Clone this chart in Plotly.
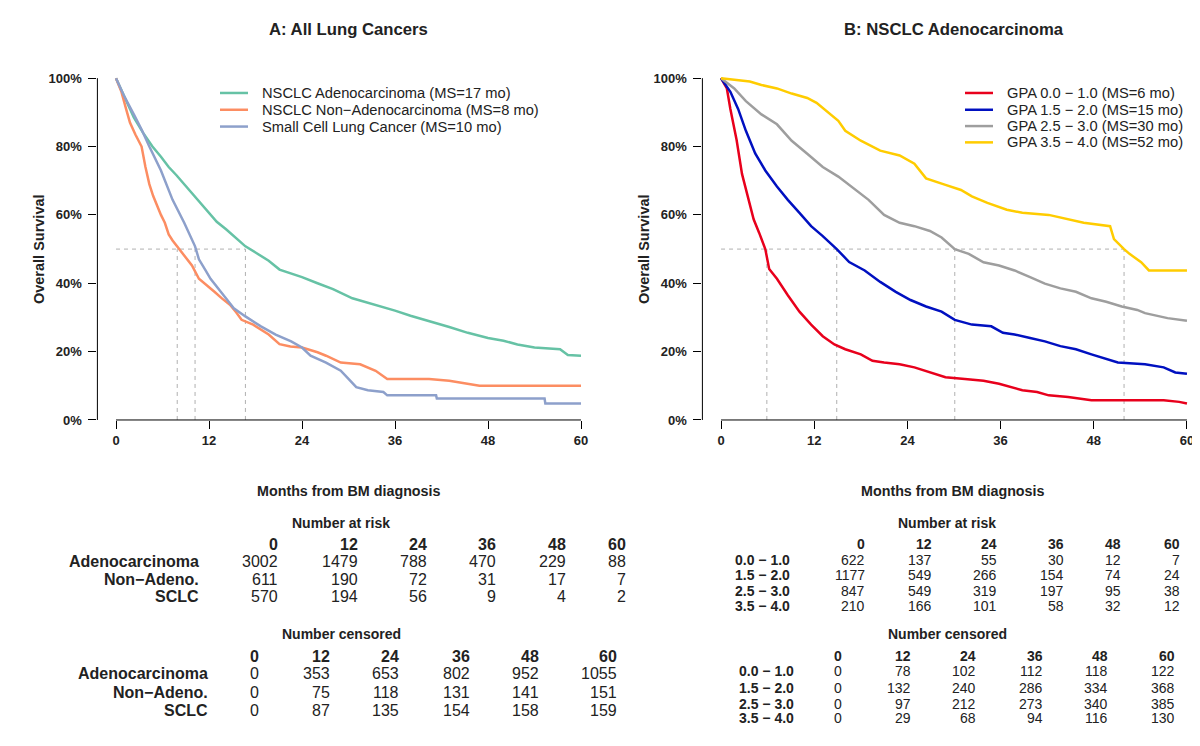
import plotly.graph_objects as go

# ---- survival curves (months, survival fraction) ----
t_adeno = [0, 1, 2.3, 3.5, 4.7, 5.8, 6.8, 7.8, 8.8, 9.8, 11, 12, 13, 14.2, 15.5, 16.7, 18, 19.7,
           21.1, 22.5, 24, 26, 28, 30.5, 33, 36, 38, 40.4, 43, 45.4, 48, 50, 51.8, 54, 57.3, 58.3, 60]
s_adeno = [1.0, 0.95, 0.885, 0.84, 0.80, 0.77, 0.74, 0.716, 0.69, 0.663, 0.632, 0.606, 0.58, 0.558,
           0.532, 0.508, 0.49, 0.466, 0.44, 0.43, 0.418, 0.40, 0.383, 0.356, 0.34, 0.32, 0.305, 0.29,
           0.272, 0.255, 0.24, 0.232, 0.221, 0.212, 0.207, 0.19, 0.188]

t_nonadeno = [0, 0.7, 1.3, 1.8, 2.5, 3.3, 3.8, 4.3, 4.8, 5.3, 5.8, 6.3, 6.8, 7.3, 7.9, 8.8, 9.8, 10.7,
              11.7, 12.7, 13.7, 14.7, 15.5, 16.2, 17.7, 18.7, 19.7, 21.1, 22.5, 24, 25.1, 26, 27.1, 29,
              31.5, 33.5, 35, 40.4, 43, 45, 46.9, 60]
s_nonadeno = [1.0, 0.96, 0.91, 0.87, 0.835, 0.80, 0.74, 0.69, 0.655, 0.625, 0.60, 0.577, 0.543, 0.525,
              0.508, 0.48, 0.452, 0.413, 0.395, 0.375, 0.355, 0.337, 0.315, 0.293, 0.279, 0.265, 0.25,
              0.222, 0.215, 0.212, 0.205, 0.198, 0.188, 0.168, 0.163, 0.144, 0.12, 0.12, 0.115, 0.108,
              0.10, 0.10]

t_sclc = [0, 1, 2.3, 3.3, 4.3, 5.8, 7.3, 8.8, 10.2, 10.7, 11.5, 12.2, 13.7, 15.2, 16.7, 18.7, 20.6,
          22.6, 24, 25.1, 27.1, 29, 30, 31, 32.5, 34.5, 35, 41.3, 41.4, 55.3, 55.4, 60]
s_sclc = [1.0, 0.95, 0.894, 0.85, 0.80, 0.73, 0.644, 0.577, 0.508, 0.47, 0.44, 0.413, 0.37, 0.327,
          0.303, 0.274, 0.25, 0.23, 0.212, 0.188, 0.168, 0.144, 0.12, 0.096, 0.087, 0.082, 0.072,
          0.072, 0.0625, 0.0625, 0.048, 0.048]

t_gpa1 = [0, 0.75, 1.2, 2.0, 2.7, 3.5, 4.2, 4.9, 5.7, 6.2, 7.2, 8.6, 10.1, 11.6, 13.1, 14.6, 16, 18,
          19.5, 21, 23, 24.9, 27.4, 28.9, 31.4, 33.8, 35.8, 38.8, 40.7, 42.2, 44.7, 47.7, 57, 59, 60]
s_gpa1 = [1.0, 0.97, 0.91, 0.82, 0.72, 0.644, 0.587, 0.548, 0.50, 0.442, 0.413, 0.365, 0.317, 0.279,
          0.245, 0.221, 0.207, 0.192, 0.173, 0.168, 0.163, 0.154, 0.135, 0.125, 0.12, 0.115, 0.106,
          0.087, 0.082, 0.072, 0.067, 0.058, 0.058, 0.053, 0.048]

t_gpa2 = [0, 1.2, 2.2, 3.2, 4.4, 5.7, 7.2, 8.6, 10.1, 11.6, 13.1, 14.9, 16.5, 18.5, 20.5, 22.5, 24.4,
          26.4, 28.4, 30.1, 32.3, 34.8, 36.3, 37.8, 39.8, 41.7, 43.7, 45.7, 47.7, 49.6, 51.1, 54.6, 57,
          58.5, 60]
s_gpa2 = [1.0, 0.96, 0.91, 0.846, 0.78, 0.73, 0.683, 0.644, 0.606, 0.567, 0.538, 0.50, 0.462, 0.4375,
          0.404, 0.375, 0.351, 0.332, 0.317, 0.293, 0.279, 0.274, 0.255, 0.25, 0.24, 0.23, 0.216,
          0.207, 0.192, 0.178, 0.168, 0.163, 0.154, 0.139, 0.135]

t_gpa3 = [0, 1.7, 3.2, 5.2, 7.2, 9.1, 11.1, 13.1, 15.1, 17, 19, 21, 23, 24.9, 26.9, 28.4, 30.1, 31.9,
          33.8, 35.8, 37.8, 39.8, 41.7, 43.7, 45.7, 47.7, 49.6, 51.6, 53.6, 54.6, 57.5, 60]
s_gpa3 = [1.0, 0.97, 0.933, 0.894, 0.865, 0.817, 0.779, 0.74, 0.712, 0.678, 0.644, 0.60, 0.577, 0.567,
          0.553, 0.534, 0.50, 0.486, 0.4615, 0.452, 0.4375, 0.418, 0.399, 0.385, 0.375, 0.356, 0.346,
          0.332, 0.322, 0.3125, 0.298, 0.29]

t_gpa4 = [0, 3.7, 5.2, 7.2, 9.1, 11.1, 12.3, 13.6, 15.1, 16, 18, 20.5, 23, 24.9, 26.4, 28.9, 30.9,
          32.3, 34.3, 36.8, 38.8, 42.2, 44.7, 46.7, 50.1, 50.6, 51.9, 52.6, 54.1, 55.1, 60]
s_gpa4 = [1.0, 0.99, 0.98, 0.97, 0.955, 0.942, 0.928, 0.904, 0.875, 0.846, 0.817, 0.788, 0.774, 0.75,
          0.707, 0.688, 0.673, 0.654, 0.635, 0.615, 0.606, 0.60, 0.587, 0.577, 0.567, 0.529, 0.50,
          0.486, 0.4615, 0.4375, 0.4375]

names_a = ["NSCLC Adenocarcinoma (MS=17 mo)", "NSCLC Non\u2212Adenocarcinoma (MS=8 mo)",
           "Small Cell Lung Cancer (MS=10 mo)"]
names_b = ["GPA 0.0 \u2212 1.0 (MS=6 mo)", "GPA 1.5 \u2212 2.0 (MS=15 mo)",
           "GPA 2.5 \u2212 3.0 (MS=30 mo)", "GPA 3.5 \u2212 4.0 (MS=52 mo)"]
colors_a = ["#66C2A5", "#FC8D62", "#8DA0CB"]
colors_b = ["#E8001C", "#0010C0", "#9E9E9E", "#FFCC00"]

medians_a = [7.9, 10.2, 16.7]
medians_b = [5.9, 14.9, 30.1, 51.9]

month_ticks = [0, 12, 24, 36, 48, 60]
surv_ticks = [0, 0.2, 0.4, 0.6, 0.8, 1.0]
surv_labels = ["0%", "20%", "40%", "60%", "80%", "100%"]

# ---- risk tables ----
rows_a = ["Adenocarcinoma", "Non\u2212Adeno.", "SCLC"]
risk_a = [[3002, 1479, 788, 470, 229, 88],
          [611, 190, 72, 31, 17, 7],
          [570, 194, 56, 9, 4, 2]]
cens_a = [[0, 353, 653, 802, 952, 1055],
          [0, 75, 118, 131, 141, 151],
          [0, 87, 135, 154, 158, 159]]

rows_b = ["0.0 \u2212 1.0", "1.5 \u2212 2.0", "2.5 \u2212 3.0", "3.5 \u2212 4.0"]
risk_b = [[622, 137, 55, 30, 12, 7],
          [1177, 549, 266, 154, 74, 24],
          [847, 549, 319, 197, 95, 38],
          [210, 166, 101, 58, 32, 12]]
cens_b = [[0, 78, 102, 112, 118, 122],
          [0, 132, 240, 286, 334, 368],
          [0, 97, 212, 273, 340, 385],
          [0, 29, 68, 94, 116, 130]]

W, H = 1200, 746
FONT = "Liberation Sans, Arial, Helvetica, sans-serif"


def px(x):
    return x / W


def py(y):
    return 1 - y / H


fig = go.Figure()

curves_a = [(t_adeno, s_adeno), (t_nonadeno, s_nonadeno), (t_sclc, s_sclc)]
curves_b = [(t_gpa1, s_gpa1), (t_gpa2, s_gpa2), (t_gpa3, s_gpa3), (t_gpa4, s_gpa4)]

for (t, s), name, col in zip(curves_a, names_a, colors_a):
    fig.add_trace(go.Scatter(x=t, y=s, mode="lines", name=name, line=dict(color=col, width=2.5),
                             xaxis="x", yaxis="y", showlegend=False))
for (t, s), name, col in zip(curves_b, names_b, colors_b):
    fig.add_trace(go.Scatter(x=t, y=s, mode="lines", name=name, line=dict(color=col, width=2.5),
                             xaxis="x2", yaxis="y2", showlegend=False))

shapes = []
dash_line = dict(color="#B0B0B0", width=1, dash="4px,4px")
for xr, yr, meds in [("x", "y", medians_a), ("x2", "y2", medians_b)]:
    # median guide lines
    shapes.append(dict(type="line", xref=xr, yref=yr, x0=0, x1=max(meds), y0=0.5, y1=0.5,
                       line=dash_line, layer="below"))
    for m in meds:
        shapes.append(dict(type="line", xref=xr, yref=yr, x0=m, x1=m, y0=0, y1=0.5,
                           line=dash_line, layer="below"))
    # R style detached axis lines
    shapes.append(dict(type="line", xref=xr + " domain", yref=yr, x0=0, x1=0, y0=0, y1=1,
                       line=dict(color="black", width=1)))
    shapes.append(dict(type="line", xref=xr, yref=yr + " domain", x0=0, x1=60, y0=0, y1=0,
                       line=dict(color="black", width=1)))

tick_font = dict(family=FONT, size=13, color="#222", weight="bold")
xax = dict(range=[-2.4, 62.4], tickvals=month_ticks, ticks="outside", ticklen=8, tickwidth=1,
           tickcolor="black", showgrid=False, zeroline=False, showline=False, tickfont=tick_font)
yax = dict(range=[0, 1.02], tickvals=surv_ticks, ticktext=surv_labels, ticks="outside", ticklen=8,
           tickwidth=1, tickcolor="black", showgrid=False, zeroline=False, showline=False,
           tickfont=tick_font, ticklabelstandoff=4, domain=[py(416), py(63.1)])

ann = []


def text(x, y, s, size=14, bold=False, anchor="center", angle=0):
    ann.append(dict(x=px(x), y=py(y), xref="paper", yref="paper", text=s, showarrow=False,
                    xanchor=anchor, yanchor="middle", textangle=angle,
                    font=dict(family=FONT, size=size, color="#222",
                              weight="bold" if bold else "normal")))


# panel titles and axis labels
text(340, 21, "A: All Lung Cancers", size=16.7, bold=True)
text(946, 21, "B: NSCLC Adenocarcinoma", size=16.7, bold=True)
text(31, 243, "Overall Survival", size=14.5, bold=True, angle=-90)
text(636, 243, "Overall Survival", size=14.5, bold=True, angle=-90)
text(341, 488, "Months from BM diagnosis", size=14.3, bold=True)
text(945, 488, "Months from BM diagnosis", size=14.3, bold=True)


# legends drawn by hand so the row spacing matches the R output
def legend(names, colors, x_line, x_text, rows_y):
    for name, col, ry in zip(names, colors, rows_y):
        shapes.append(dict(type="line", xref="paper", yref="paper", x0=px(x_line), x1=px(x_line + 28),
                           y0=py(ry), y1=py(ry), line=dict(color=col, width=2.5)))
        text(x_text, ry, name, size=14.7, anchor="left")


legend(names_a, colors_a, 212, 252, [85, 102, 119])
legend(names_b, colors_b, 957, 997, [85, 102, 118.5, 135])


def table(title, title_xy, rows, values, label_x, col_x, head_y, row_y, size):
    text(title_xy[0], title_xy[1], title, size=14, bold=True)
    for m, cx in zip(month_ticks, col_x):
        text(cx, head_y, str(m), size=size, bold=True, anchor="right")
    for lab, vals, ry in zip(rows, values, row_y):
        text(label_x, ry, lab, size=size, bold=True, anchor="right")
        for v, cx in zip(vals, col_x):
            text(cx, ry, str(v), size=size, anchor="right")


table("Number at risk", (333, 520), rows_a, risk_a, 193, [272, 352, 421, 490, 560, 620],
      542, [559, 577, 595], 16)
table("Number censored", (333, 633), rows_a, cens_a, 202, [253, 324, 393, 464, 533, 611],
      655, [673, 692, 710], 16)
table("Number at risk", (939, 520), rows_b, risk_b, 784, [859, 926, 991, 1058, 1115, 1174],
      542, [558, 573, 589, 604], 14)
table("Number censored", (939, 633), rows_b, cens_b, 788, [836, 905, 970, 1037, 1102, 1169],
      655, [670, 687, 703, 718], 14)

fig.update_layout(
    width=W, height=H,
    margin=dict(l=0, r=0, t=0, b=0),
    paper_bgcolor="white", plot_bgcolor="white",
    showlegend=False,
    xaxis=dict(xax, domain=[px(89.4), px(591.6)], anchor="y"),
    yaxis=dict(yax, anchor="x"),
    xaxis2=dict(xax, domain=[px(694.4), px(1197.6)], anchor="y2"),
    yaxis2=dict(yax, anchor="x2"),
    shapes=shapes,
    annotations=ann,
)

fig.write_html("out.html")
